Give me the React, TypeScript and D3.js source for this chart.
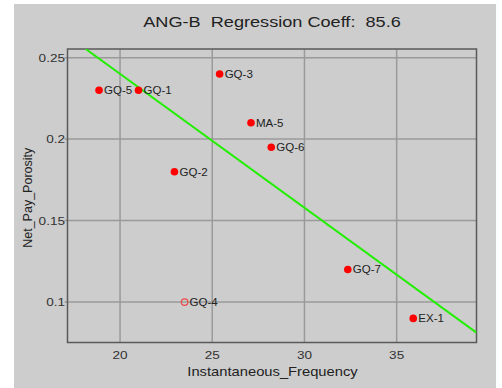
import React from "react";
import * as d3 from "d3";

// Well attributes: instantaneous frequency vs net pay porosity
const wells = ["GQ-5", "GQ-1", "GQ-3", "MA-5", "GQ-6", "GQ-2", "GQ-4", "GQ-7", "EX-1"];
const frequency = [18.86, 21.0, 25.4, 27.1, 28.2, 22.95, 23.5, 32.35, 35.9];
const porosity = [0.23, 0.23, 0.24, 0.21, 0.195, 0.18, 0.1, 0.12, 0.09];
// Wells left out of the regression (drawn hollow)
const excluded = ["GQ-4"];

const xTicks = [20, 25, 30, 35];
const yTicks = [0.1, 0.15, 0.2, 0.25];
const title = "ANG-B  Regression Coeff:  85.6";

const W = 502;
const H = 388;
const plot = { left: 67.5, top: 49, right: 476.5, bottom: 342.5 };
const font = "'Liberation Sans', Arial, Helvetica, sans-serif";

// Horizontal text drawn with a slightly wide face
function WideText(props: {
  x: number; y: number; size: number; anchor?: "start" | "middle" | "end";
  fill?: string; stretch?: number; children: React.ReactNode;
}) {
  const { x, y, size, anchor = "start", fill = "#222", stretch = 1.18, children } = props;
  return (
    <text transform={`translate(${x},${y}) scale(${stretch},1)`} textAnchor={anchor} fontSize={size}
      fill={fill} style={{ whiteSpace: "pre" }}>
      {children}
    </text>
  );
}

export default function App() {
  const x = d3.scaleLinear().domain([17.15, 39.33]).range([plot.left, plot.right]);
  const y = d3.scaleLinear().domain([0.0752, 0.2553]).range([plot.bottom, plot.top]);

  const pts = wells.map((w, i) => ({ w, fx: frequency[i], py: porosity[i], out: excluded.includes(w) }));
  const used = pts.filter((p) => !p.out);

  // Least-squares fit on the included wells
  const mx = d3.mean(used, (p) => p.fx)!;
  const my = d3.mean(used, (p) => p.py)!;
  const sxy = d3.sum(used, (p) => (p.fx - mx) * (p.py - my));
  const sxx = d3.sum(used, (p) => (p.fx - mx) ** 2);
  const slope = sxy / sxx;
  const intercept = my - slope * mx;
  const [x0, x1] = x.domain();
  const fitStart = Math.max(x0, (y.domain()[1] - intercept) / slope);
  const line = d3.line<number>()
    .x((v) => x(v))
    .y((v) => y(intercept + slope * v));

  return (
    <svg width={W} height={H} style={{ position: "absolute", left: 0, top: 0 }} fontFamily={font}>
      <rect x={14} y={4} width={482} height={384} fill="#cdcdcd" />
      <WideText x={272} y={27} size={14.5} anchor="middle" stretch={1.25}>{title}</WideText>

      <defs>
        <clipPath id="plotClip">
          <rect x={plot.left} y={plot.top} width={plot.right - plot.left} height={plot.bottom - plot.top} />
        </clipPath>
      </defs>

      {/* grid */}
      {xTicks.map((t) => (
        <line key={"gx" + t} x1={x(t)} x2={x(t)} y1={plot.top} y2={plot.bottom} stroke="#9a9a9a" strokeWidth={1.5} />
      ))}
      {yTicks.map((t) => (
        <line key={"gy" + t} x1={plot.left - 3} x2={plot.right} y1={y(t)} y2={y(t)} stroke="#9a9a9a" strokeWidth={1.5} />
      ))}

      {/* frame */}
      <rect x={plot.left} y={plot.top} width={plot.right - plot.left} height={plot.bottom - plot.top}
        fill="none" stroke="#5a5a5a" strokeWidth={1.5} />

      {/* tick labels */}
      {xTicks.map((t) => (
        <WideText key={"tx" + t} x={x(t)} y={359} size={11.5} anchor="middle" fill="#333">{t}</WideText>
      ))}
      {yTicks.map((t) => (
        <WideText key={"ty" + t} x={65} y={y(t) + 4} size={11.5} anchor="end" fill="#333">{t}</WideText>
      ))}

      {/* axis titles */}
      <WideText x={272.5} y={376} size={12.5} anchor="middle">Instantaneous_Frequency</WideText>
      <text transform={`translate(32,${(plot.top + plot.bottom) / 2 + 2}) rotate(-90)`} textAnchor="middle"
        fontSize={12.5} fill="#222">Net_Pay_Porosity</text>

      {/* regression line */}
      <path d={line([fitStart, x1]) ?? ""} fill="none" stroke="#22ee00" strokeWidth={2} clipPath="url(#plotClip)" />

      {/* wells */}
      {pts.map((p) => (
        <g key={p.w}>
          {p.out ? (
            <circle cx={x(p.fx)} cy={y(p.py)} r={3.3} fill="none" stroke="#f04848" strokeWidth={1.2} />
          ) : (
            <circle cx={x(p.fx)} cy={y(p.py)} r={3.8} fill="#ff0000" />
          )}
          <WideText x={x(p.fx) + 5} y={y(p.py) + 3.8} size={10.5} stretch={1.1}>{p.w}</WideText>
        </g>
      ))}
    </svg>
  );
}
